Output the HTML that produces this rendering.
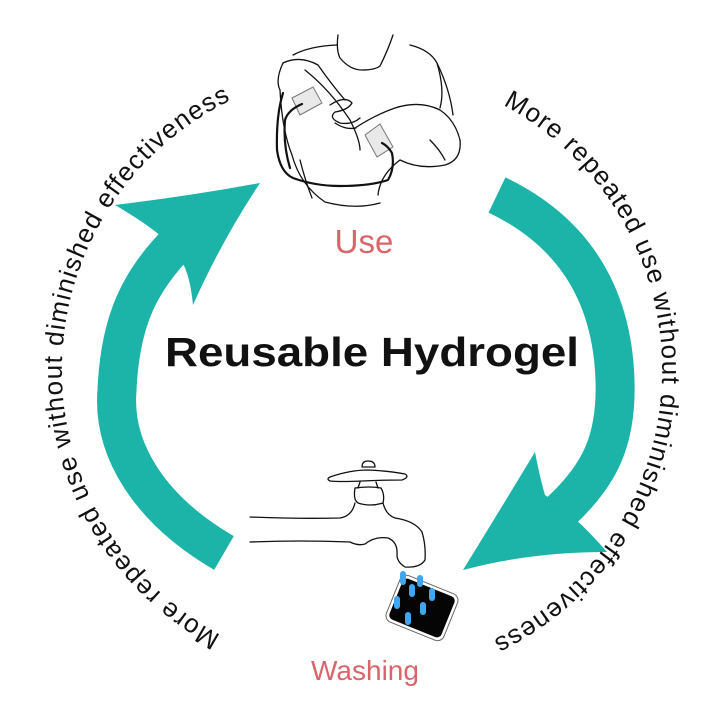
<!DOCTYPE html>
<html><head><meta charset="utf-8"><style>
html,body{margin:0;padding:0;background:#fff;}
svg{display:block;}
</style></head><body>
<svg width="720" height="720" viewBox="0 0 720 720" xmlns="http://www.w3.org/2000/svg">
<defs>
<path id="lp" d="M221,635 A300,300 0 0 1 240,96"/>
<path id="rp" d="M503,105 A300,300 0 0 1 484,644"/>
</defs>
<rect width="720" height="720" fill="#fff"/>

<g fill="none" stroke="#1cb3a8" stroke-width="39">
<path d="M224,553 C150,510 112,450 117,390 C120,320 140,280 180,240"/>
<path d="M497,195 C570,230 612,290 615,380 C617,440 600,475 560,512"/>
</g>
<g fill="#1cb3a8">
<path d="M115,205 Q190,196 260,183 Q222,240 193,305 Q190,275 182,262 Q175,240 115,205 Z"/>
<path d="M535,452 Q540,478 545,495 Q575,515 607,552 Q530,552 463,570 Q500,510 535,452 Z"/>
</g>

<g font-family="Liberation Sans, sans-serif" font-size="26" fill="#111">
<text><textPath href="#lp" textLength="660" lengthAdjust="spacing">More repeated use without diminished effectiveness</textPath></text>
<text><textPath href="#rp" textLength="660" lengthAdjust="spacing">More repeated use without diminished effectiveness</textPath></text>
</g>

<text x="372" y="366" text-anchor="middle" font-family="Liberation Sans, sans-serif" font-weight="bold" font-size="41" textLength="414" lengthAdjust="spacingAndGlyphs" fill="#111">Reusable Hydrogel</text>
<text x="364" y="253" text-anchor="middle" font-family="Liberation Sans, sans-serif" font-size="33" fill="#d9656b">Use</text>
<text x="365" y="680" text-anchor="middle" font-family="Liberation Sans, sans-serif" font-size="28" fill="#d9656b">Washing</text>

<g fill="none" stroke="#111" stroke-width="1.3" stroke-linecap="round" stroke-linejoin="round">
<path d="M338,35 Q336,50 340,58 Q350,70 362,70 Q375,70 380,66 Q388,50 393,35"/>
<path d="M293,55 Q310,46 337,45"/>
<path d="M410,45 Q430,50 437,63 Q450,90 453,115"/>
<path d="M283,63 Q275,80 280,90 Q282,130 292,155 Q300,185 325,202 Q355,210 380,203"/>
<path d="M283,63 Q300,55 318,65 Q332,85 345,100"/>
<path d="M305,70 Q330,90 350,120 Q360,140 360,150"/>
<path d="M330,105 Q345,95 352,103 Q348,110 335,112 Q328,118 340,123 Q352,125 360,118"/>
<path d="M335,123 Q345,130 356,128"/>
<path d="M355,128 Q375,115 395,108 Q420,100 440,110 Q455,120 460,140 Q462,160 445,165 Q420,170 400,160"/>
<path d="M400,160 Q380,175 378,195"/>
<path d="M300,160 Q305,180 312,198"/>
<path d="M437,63 Q445,90 440,108"/>
<path d="M430,140 Q440,150 445,160"/>
</g>
<g fill="#e9e9e9" stroke="#777" stroke-width="1">
<path d="M292,98 L313,87 L322,103 L300,115 Z"/>
<path d="M365,135 L380,124 L393,147 L377,157 Z"/>
</g>
<g fill="none" stroke="#111" stroke-width="2.2" stroke-linecap="round" stroke-linejoin="round">
<path d="M302,104 Q288,110 285,120 Q283,145 290,168"/>
<path d="M283,93 Q276,115 277,150 Q280,172 293,178 Q315,186 340,186 Q370,186 388,180 Q395,168 392,153 Q388,146 382,143"/>
</g>

<g fill="none" stroke="#111" stroke-width="1.3" stroke-linecap="round" stroke-linejoin="round">
<path d="M362,467 Q362,461 368,461 Q375,461 375,467 Z"/>
<path d="M330,477 Q350,470 368,470 Q390,471 405,474 Q410,477 402,480 Q380,480 362,481 Q340,482 330,481 Q326,479 330,477 Z"/>
<path d="M360,482 L358,488 M376,482 L378,488"/>
<path d="M355,488 Q353,500 358,503 Q370,507 383,503 Q385,495 381,488 Q370,486 355,488 Z"/>
<path d="M250,517 Q300,519 340,518 Q352,516 355,503"/>
<path d="M383,503 Q386,515 395,518 Q415,521 422,532 Q426,545 425,560 Q420,568 405,567 Q397,562 397,555 Q398,542 388,538 Q375,536 365,544 Q358,546 350,542 Q300,540 250,542"/>
</g>

<g transform="translate(422,608) rotate(22)">
<rect x="-31" y="-25" width="62" height="50" rx="7" fill="#fff" stroke="#666" stroke-width="1"/>
<rect x="-28" y="-22" width="56" height="44" rx="5" fill="#050505"/>
</g>
<g fill="#3fa7f0">
<rect x="400" y="571" width="6" height="14" rx="3"/>
<rect x="417" y="575" width="6" height="12" rx="3"/>
<rect x="409" y="584" width="6" height="13" rx="3"/>
<rect x="394" y="596" width="6" height="13" rx="3"/>
<rect x="429" y="588" width="6" height="13" rx="3"/>
<rect x="420" y="602" width="6" height="13" rx="3"/>
<rect x="405" y="612" width="6" height="13" rx="3"/>
</g>
</svg>
</body></html>
